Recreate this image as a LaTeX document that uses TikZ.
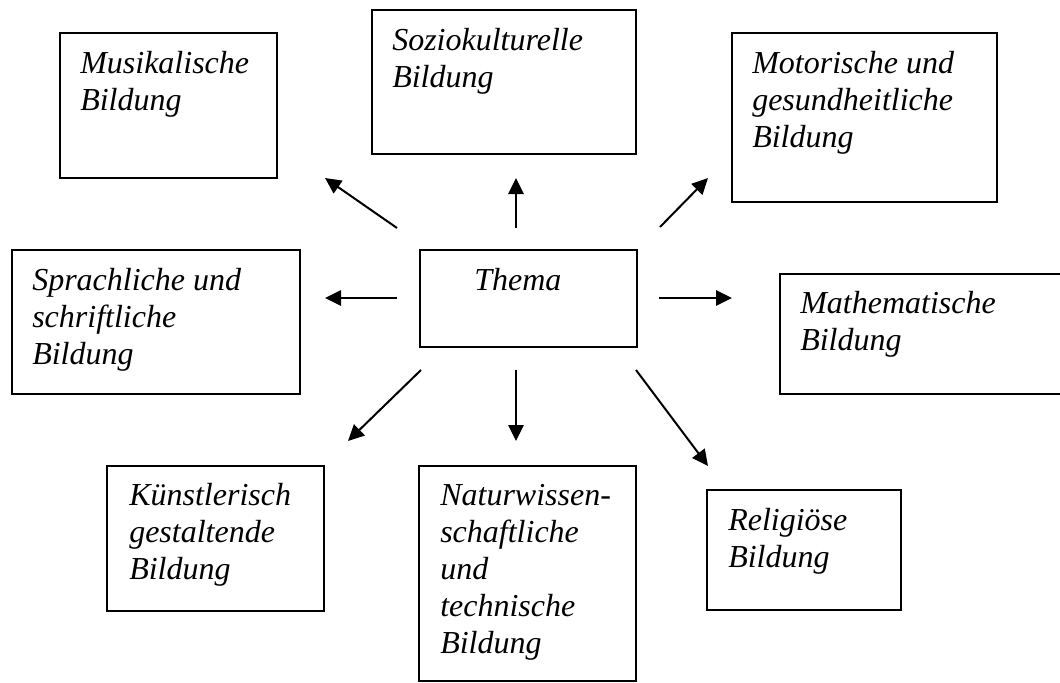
\documentclass[tikz,border=0pt]{standalone}
\usepackage{fontspec}
\setmainfont{Liberation Serif}
\usetikzlibrary{arrows.meta,fit}
\newcommand{\stk}[1]{\vtop{\baselineskip=27.75pt #1}}
\begin{document}
\begin{tikzpicture}[x=0.75pt,y=-0.75pt,
  box/.style={draw=black, line width=1.1pt, inner sep=0pt, rectangle},
  lbl/.style={anchor=base west, inner sep=0pt, font=\fontsize{24}{27.75}\selectfont\itshape},
  arr/.style={draw=black, line width=1.5pt, -{Triangle[length=12pt,width=11.5pt]}}]
\useasboundingbox (0,0) rectangle (1060,682);
% boxes
\node[box, fit={(60,33) (277,178)}] (mus) {};
\node[box, fit={(372,10) (636,154)}] (soz) {};
\node[box, fit={(732,33) (997,202)}] (mot) {};
\node[box, fit={(12,250) (300,394)}] (spr) {};
\node[box, fit={(420,250) (637,347)}] (thema) {};
\node[box, fit={(780,274) (1063,394)}] (mat) {};
\node[box, fit={(107,466) (324,611)}] (kue) {};
\node[box, fit={(419,466) (636,681)}] (nat) {};
\node[box, fit={(707,490) (901,610)}] (rel) {};
% texts
\node[lbl] (tmus) at (80,73) {\stk{\hbox{Musikalische}\hbox{Bildung}}};
\node[lbl] (tsoz) at (392,50) {\stk{\hbox{Soziokulturelle}\hbox{Bildung}}};
\node[lbl] (tmot) at (752,73) {\stk{\hbox{Motorische und}\hbox{gesundheitliche}\hbox{Bildung}}};
\node[lbl] (tspr) at (32,290) {\stk{\hbox{Sprachliche und}\hbox{schriftliche}\hbox{Bildung}}};
\node[lbl] (tthema) at (474,290) {Thema};
\node[lbl] (tmat) at (800,313) {\stk{\hbox{Mathematische}\hbox{Bildung}}};
\node[lbl] (tkue) at (129,505) {\stk{\hbox{Künstlerisch}\hbox{gestaltende}\hbox{Bildung}}};
\node[lbl] (tnat) at (440,505) {\stk{\hbox{Naturwissen-}\hbox{schaftliche}\hbox{und}\hbox{technische}\hbox{Bildung}}};
\node[lbl] (trel) at (728,530) {\stk{\hbox{Religiöse}\hbox{Bildung}}};
% arrow ends
\coordinate (a1s) at (397,228); \coordinate (a1e) at (325,178);
\coordinate (a2s) at (516,228); \coordinate (a2e) at (516,178);
\coordinate (a3s) at (660,227); \coordinate (a3e) at (708,178);
\coordinate (a4s) at (397,298); \coordinate (a4e) at (325,298);
\coordinate (a5s) at (659,298); \coordinate (a5e) at (732,298);
\coordinate (a6s) at (421,370); \coordinate (a6e) at (348,441);
\coordinate (a7s) at (516,370); \coordinate (a7e) at (516,441);
\coordinate (a8s) at (636,370); \coordinate (a8e) at (708,466);
\draw[arr] (a1s) -- (a1e);
\draw[arr] (a2s) -- (a2e);
\draw[arr] (a3s) -- (a3e);
\draw[arr] (a4s) -- (a4e);
\draw[arr] (a5s) -- (a5e);
\draw[arr] (a6s) -- (a6e);
\draw[arr] (a7s) -- (a7e);
\draw[arr] (a8s) -- (a8e);
\end{tikzpicture}
\end{document}
